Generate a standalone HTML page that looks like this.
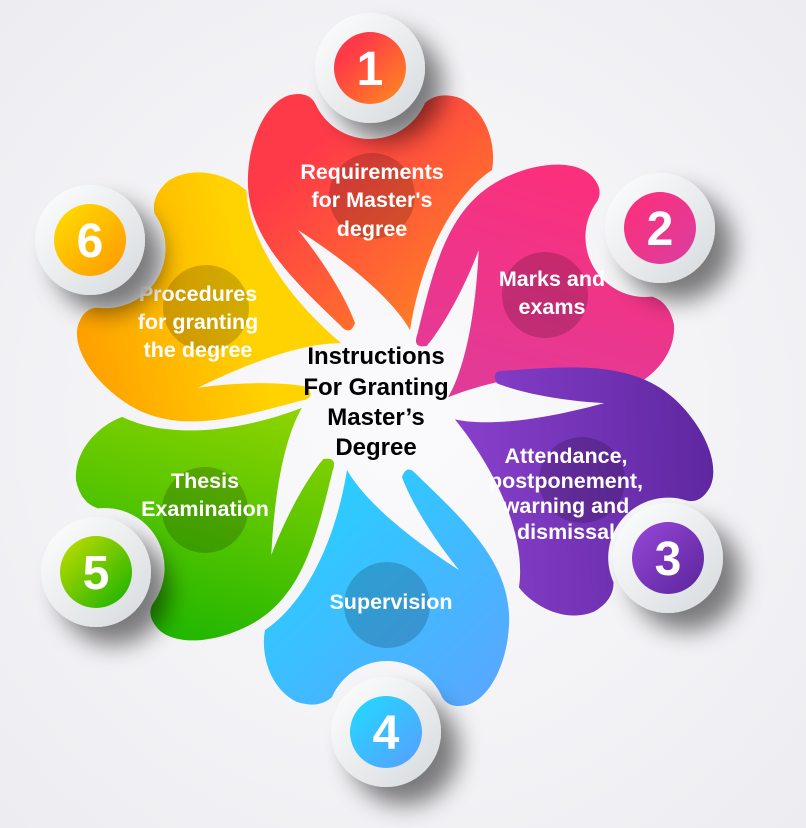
<!DOCTYPE html>
<html><head><meta charset="utf-8"><style>
html,body{margin:0;padding:0;width:806px;height:828px;overflow:hidden;background:#f3f3f6;}
svg{display:block}
text{font-family:"Liberation Sans",Arial,sans-serif;font-weight:bold;}
</style></head><body>
<svg width="806" height="828" viewBox="0 0 806 828" xmlns="http://www.w3.org/2000/svg">
<defs>
<radialGradient id="bg" cx="0.5" cy="0.5" r="0.7"><stop offset="0" stop-color="#fbfbfd"/><stop offset="1" stop-color="#ededf1"/></radialGradient>
<linearGradient id="g1" x1="0" y1="0" x2="1" y2="1"><stop offset="0.25" stop-color="#ff3a48"/><stop offset="1" stop-color="#ff8e1c"/></linearGradient>
<linearGradient id="g2" x1="0" y1="0" x2="1" y2="1"><stop offset="0" stop-color="#ff2e78"/><stop offset="1" stop-color="#d93ea0"/></linearGradient>
<linearGradient id="g3" x1="0" y1="0" x2="1" y2="1"><stop offset="0" stop-color="#5a259c"/><stop offset="1" stop-color="#9345d6"/></linearGradient>
<linearGradient id="g4" x1="0" y1="0" x2="1" y2="1"><stop offset="0" stop-color="#5ca4ff"/><stop offset="1" stop-color="#1fd6ff"/></linearGradient>
<linearGradient id="g5" x1="0" y1="0" x2="1" y2="1"><stop offset="0" stop-color="#16b400"/><stop offset="1" stop-color="#a8da00"/></linearGradient>
<linearGradient id="g6" x1="0" y1="0" x2="1" y2="1"><stop offset="0" stop-color="#ff9800"/><stop offset="0.6" stop-color="#ffd300"/></linearGradient>
<linearGradient id="c3" x1="0" y1="0" x2="1" y2="1"><stop offset="0" stop-color="#9848da"/><stop offset="1" stop-color="#5a249a"/></linearGradient>
<linearGradient id="c4" x1="0" y1="0" x2="1" y2="1"><stop offset="0" stop-color="#1fdcff"/><stop offset="1" stop-color="#5a9cff"/></linearGradient>
<linearGradient id="c5" x1="0" y1="0" x2="1" y2="1"><stop offset="0" stop-color="#c8de00"/><stop offset="1" stop-color="#12b000"/></linearGradient>
<linearGradient id="c6" x1="0" y1="0" x2="1" y2="1"><stop offset="0" stop-color="#ffe000"/><stop offset="1" stop-color="#ff9600"/></linearGradient>
<linearGradient id="ring" x1="0" y1="0" x2="1" y2="1"><stop offset="0" stop-color="#ffffff"/><stop offset="1" stop-color="#d6dadd"/></linearGradient>
<filter id="sh" x="-60%" y="-60%" width="220%" height="220%"><feGaussianBlur in="SourceAlpha" stdDeviation="12"/><feOffset dx="18" dy="18"/><feComponentTransfer><feFuncA type="linear" slope="0.5"/></feComponentTransfer><feMerge><feMergeNode/><feMergeNode in="SourceGraphic"/></feMerge></filter>
<path id="petal" d="M -80,-100 Q -62,-104 -55,-92 A 60 60 0 0 0 55,-92 Q 68,-104 90,-97 C 120,-82 126,-45 122,-25 C 84,0 52,60 40,135 C 20,100 -30,62 -72,35 C -42,72 -22,108 -15,128 Q -20,142 -30,130 C -80,82 -125,40 -122,-20 C -120,-60 -102,-94 -80,-100 Z"/>
</defs>
<rect width="806" height="828" fill="url(#bg)"/>

<g transform="translate(370,195) rotate(0)"><use href="#petal" fill="url(#g1)"/></g>
<g transform="translate(545,295) rotate(60)"><use href="#petal" fill="url(#g2)"/></g>
<g transform="translate(582,480) rotate(132)"><use href="#petal" fill="url(#g3)"/></g>
<g transform="translate(387,605) rotate(180)"><use href="#petal" fill="url(#g4)"/></g>
<g transform="translate(205,510) rotate(240)"><use href="#petal" fill="url(#g5)"/></g>
<g transform="translate(205,308) rotate(301)"><use href="#petal" fill="url(#g6)"/></g>

<g fill="#000" fill-opacity="0.18">
<circle cx="372" cy="196" r="43"/><circle cx="545" cy="295" r="43"/><circle cx="582" cy="480" r="43"/>
<circle cx="387" cy="605" r="43"/><circle cx="205" cy="510" r="43"/><circle cx="206" cy="308" r="43"/>
</g>

<g fill="#fff" font-size="21.5" text-anchor="middle">
<text x="372" y="179">Requirements</text><text x="372" y="207">for Master's</text><text x="372" y="236">degree</text>
<text x="552" y="286">Marks and</text><text x="552" y="314">exams</text>
<text x="566" y="463">Attendance,</text><text x="566" y="488">postponement,</text><text x="566" y="513">warning and</text><text x="566" y="539">dismissal</text>
<text x="391" y="609">Supervision</text>
<text x="205" y="488">Thesis</text><text x="205" y="516">Examination</text>
<text x="198" y="301">Procedures</text><text x="198" y="329">for granting</text><text x="198" y="357">the degree</text>
</g>
<g fill="#000" font-size="24" text-anchor="middle">
<text x="376" y="364">Instructions</text><text x="376" y="395">For Granting</text><text x="376" y="425">Master’s</text><text x="376" y="455">Degree</text>
</g>

<g filter="url(#sh)">
<circle cx="370" cy="68" r="55" fill="url(#ring)"/><circle cx="660" cy="228" r="55" fill="url(#ring)"/>
<circle cx="668" cy="558" r="55" fill="url(#ring)"/><circle cx="386" cy="732" r="55" fill="url(#ring)"/>
<circle cx="96" cy="572" r="55" fill="url(#ring)"/><circle cx="90" cy="240" r="55" fill="url(#ring)"/>
</g>
<circle cx="370" cy="68" r="36" fill="url(#g1)"/>
<circle cx="660" cy="228" r="36" fill="url(#g2)"/>
<circle cx="668" cy="558" r="36" fill="url(#c3)"/>
<circle cx="386" cy="732" r="36" fill="url(#c4)"/>
<circle cx="96" cy="572" r="36" fill="url(#c5)"/>
<circle cx="90" cy="240" r="36" fill="url(#c6)"/>
<g fill="#fff" font-size="48" text-anchor="middle">
<text x="370" y="85">1</text><text x="660" y="245">2</text><text x="668" y="575">3</text>
<text x="386" y="749">4</text><text x="96" y="589">5</text><text x="90" y="257">6</text>
</g>
</svg>
</body></html>
